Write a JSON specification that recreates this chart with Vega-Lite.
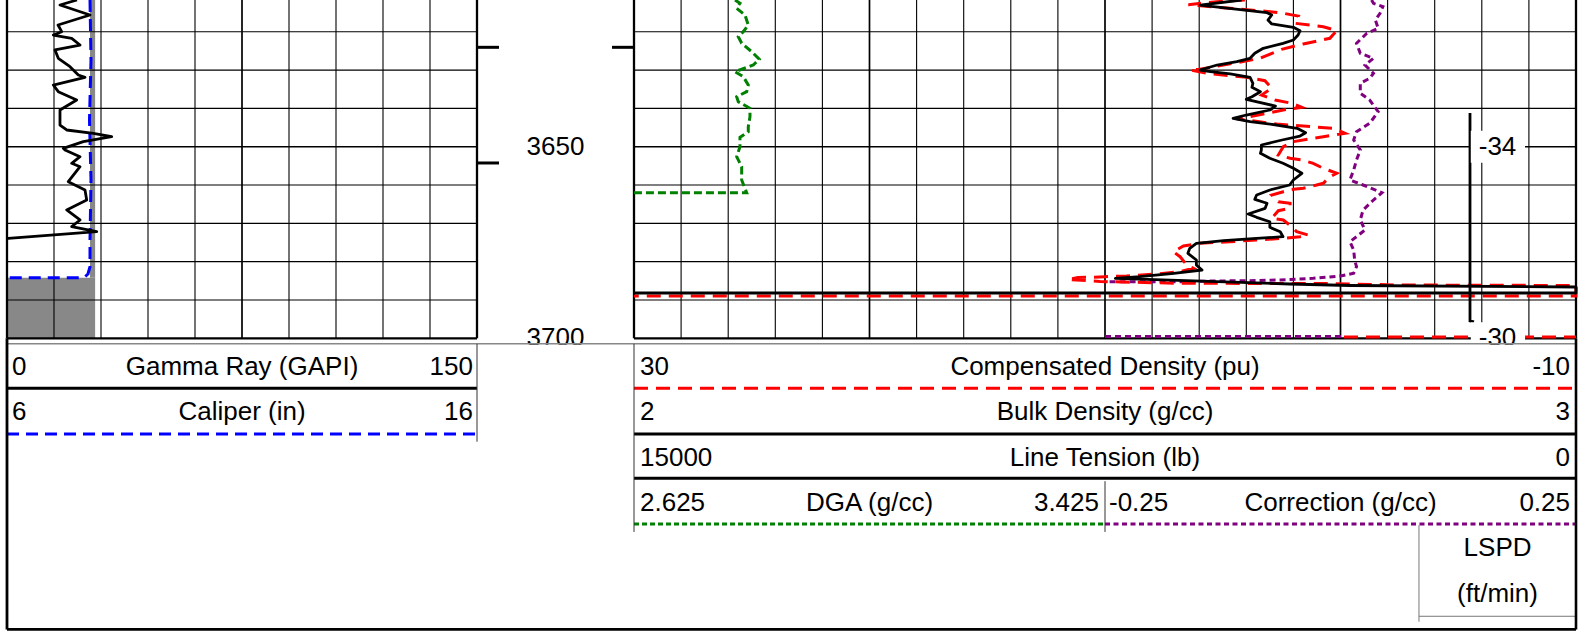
{
"$schema": "https://vega.github.io/schema/vega-lite/v6.json",
"width": 1592, "height": 631,
"autosize": {"type": "none"},
"padding": 0,
"background": "white",
"config": {"view": {"stroke": null}},
"data": {"values": [{"frame": 1}]},
"datasets": {
"hgrid": [{"depth":3620,"kind":"minor"},{"depth":3630,"kind":"minor"},{"depth":3640,"kind":"minor"},{"depth":3650,"kind":"major"},{"depth":3660,"kind":"minor"},{"depth":3670,"kind":"minor"},{"depth":3680,"kind":"minor"},{"depth":3690,"kind":"minor"},{"depth":3700,"kind":"border"}],
"vgridL": [{"v":0,"kind":"border"},{"v":15,"kind":"minor"},{"v":30,"kind":"minor"},{"v":45,"kind":"minor"},{"v":60,"kind":"minor"},{"v":75,"kind":"major"},{"v":90,"kind":"minor"},{"v":105,"kind":"minor"},{"v":120,"kind":"minor"},{"v":135,"kind":"minor"},{"v":150,"kind":"border"}],
"vgridR": [{"v":2.0,"kind":"border"},{"v":2.05,"kind":"minor"},{"v":2.1,"kind":"minor"},{"v":2.15,"kind":"minor"},{"v":2.2,"kind":"minor"},{"v":2.25,"kind":"major"},{"v":2.3,"kind":"minor"},{"v":2.35,"kind":"minor"},{"v":2.4,"kind":"minor"},{"v":2.45,"kind":"minor"},{"v":2.5,"kind":"major"},{"v":2.55,"kind":"minor"},{"v":2.6,"kind":"minor"},{"v":2.65,"kind":"minor"},{"v":2.7,"kind":"minor"},{"v":2.75,"kind":"major"},{"v":2.8,"kind":"minor"},{"v":2.85,"kind":"minor"},{"v":2.9,"kind":"minor"},{"v":2.95,"kind":"minor"},{"v":3.0,"kind":"border"}],
"bit": [{"top":3611.7,"bottom":3684.18,"cali_lo":7.766,"bit":7.875},{"top":3684.18,"bottom":3700,"cali_lo":6,"bit":7.875}],
"cali": [{"depth":3611.7,"cali":7.766},{"depth":3627.36,"cali":7.787},{"depth":3643.02,"cali":7.755},{"depth":3658.68,"cali":7.787},{"depth":3674.34,"cali":7.766},{"depth":3681.31,"cali":7.766},{"depth":3683.22,"cali":7.723},{"depth":3684.18,"cali":7.638},{"depth":3684.18,"cali":6.0}],
"gr": [{"depth":3611.7,"gr":22.34},{"depth":3613.01,"gr":16.91},{"depth":3615.62,"gr":26.49},{"depth":3618.23,"gr":16.28},{"depth":3619.97,"gr":17.46},{"depth":3620.84,"gr":14.78},{"depth":3621.7,"gr":20.65},{"depth":3623.45,"gr":23.3},{"depth":3624.75,"gr":15.32},{"depth":3626.92,"gr":16.37},{"depth":3629.11,"gr":20.11},{"depth":3631.28,"gr":22.76},{"depth":3631.88,"gr":24.89},{"depth":3633.89,"gr":14.78},{"depth":3635.63,"gr":16.37},{"depth":3637.8,"gr":22.24},{"depth":3640.41,"gr":16.91},{"depth":3644.33,"gr":16.91},{"depth":3645.63,"gr":19.05},{"depth":3646.49,"gr":27.54},{"depth":3647.38,"gr":33.41},{"depth":3648.68,"gr":24.35},{"depth":3650.41,"gr":17.97},{"depth":3650.85,"gr":18.51},{"depth":3652.6,"gr":23.3},{"depth":3654.32,"gr":20.65},{"depth":3655.21,"gr":23.3},{"depth":3659.13,"gr":19.56},{"depth":3661.29,"gr":24.89},{"depth":3663.9,"gr":25.44},{"depth":3666.51,"gr":19.05},{"depth":3669.12,"gr":23.3},{"depth":3670.87,"gr":20.65},{"depth":3672.18,"gr":28.63},{"depth":3673.9,"gr":0.41},{"depth":3673.95,"gr":0}],
"dga": [{"depth":3611.7,"dga":2.7966},{"depth":3612.56,"dga":2.805},{"depth":3613.87,"dga":2.7994},{"depth":3615.62,"dga":2.8135},{"depth":3618.23,"dga":2.8191},{"depth":3619.97,"dga":2.8106},{"depth":3621.28,"dga":2.8021},{"depth":3623.0,"dga":2.8079},{"depth":3625.19,"dga":2.8249},{"depth":3627.18,"dga":2.8378},{"depth":3628.67,"dga":2.8276},{"depth":3630.41,"dga":2.7966},{"depth":3631.72,"dga":2.8106},{"depth":3633.89,"dga":2.8191},{"depth":3635.63,"dga":2.8164},{"depth":3636.94,"dga":2.7994},{"depth":3638.24,"dga":2.8021},{"depth":3639.97,"dga":2.822},{"depth":3642.16,"dga":2.822},{"depth":3644.77,"dga":2.8191},{"depth":3646.08,"dga":2.8191},{"depth":3647.54,"dga":2.805},{"depth":3649.99,"dga":2.805},{"depth":3652.6,"dga":2.7994},{"depth":3655.21,"dga":2.8079},{"depth":3658.68,"dga":2.8079},{"depth":3662.0,"dga":2.8164},{"depth":3662.0,"dga":2.625}],
"rhob": [{"depth":3611.7,"rhob":2.645},{"depth":3613.01,"rhob":2.601},{"depth":3615.01,"rhob":2.672},{"depth":3615.62,"rhob":2.677},{"depth":3616.92,"rhob":2.673},{"depth":3617.96,"rhob":2.677},{"depth":3618.83,"rhob":2.7},{"depth":3619.71,"rhob":2.707},{"depth":3620.84,"rhob":2.705},{"depth":3622.14,"rhob":2.7},{"depth":3623.0,"rhob":2.689},{"depth":3624.31,"rhob":2.668},{"depth":3625.61,"rhob":2.659},{"depth":3626.92,"rhob":2.654},{"depth":3627.8,"rhob":2.64},{"depth":3628.67,"rhob":2.619},{"depth":3629.97,"rhob":2.601},{"depth":3630.41,"rhob":2.612},{"depth":3631.01,"rhob":2.633},{"depth":3631.88,"rhob":2.654},{"depth":3633.44,"rhob":2.657},{"depth":3634.49,"rhob":2.656},{"depth":3635.63,"rhob":2.665},{"depth":3636.94,"rhob":2.656},{"depth":3637.62,"rhob":2.65},{"depth":3639.37,"rhob":2.681},{"depth":3640.41,"rhob":2.675},{"depth":3641.72,"rhob":2.65},{"depth":3642.58,"rhob":2.636},{"depth":3643.47,"rhob":2.654},{"depth":3644.33,"rhob":2.682},{"depth":3645.19,"rhob":2.704},{"depth":3646.34,"rhob":2.713},{"depth":3647.2,"rhob":2.707},{"depth":3648.24,"rhob":2.688},{"depth":3649.55,"rhob":2.666},{"depth":3650.85,"rhob":2.666},{"depth":3651.71,"rhob":2.665},{"depth":3653.02,"rhob":2.675},{"depth":3654.32,"rhob":2.689},{"depth":3655.63,"rhob":2.7},{"depth":3656.93,"rhob":2.709},{"depth":3658.68,"rhob":2.7},{"depth":3659.99,"rhob":2.696},{"depth":3661.29,"rhob":2.675},{"depth":3662.6,"rhob":2.661},{"depth":3663.72,"rhob":2.659},{"depth":3664.76,"rhob":2.672},{"depth":3666.07,"rhob":2.67},{"depth":3667.56,"rhob":2.652},{"depth":3668.42,"rhob":2.661},{"depth":3669.57,"rhob":2.675},{"depth":3671.03,"rhob":2.675},{"depth":3672.18,"rhob":2.686},{"depth":3673.48,"rhob":2.689},{"depth":3674.0,"rhob":2.657},{"depth":3674.53,"rhob":2.626},{"depth":3675.21,"rhob":2.597},{"depth":3676.51,"rhob":2.59},{"depth":3677.81,"rhob":2.588},{"depth":3679.56,"rhob":2.597},{"depth":3680.87,"rhob":2.597},{"depth":3682.17,"rhob":2.603},{"depth":3683.04,"rhob":2.573},{"depth":3683.92,"rhob":2.537},{"depth":3684.34,"rhob":2.511},{"depth":3685.83,"rhob":2.696},{"depth":3686.22,"rhob":2.76},{"depth":3686.61,"rhob":3.0},{"depth":3688.18,"rhob":3.0},{"depth":3688.18,"rhob":2.0}],
"dphi": [{"depth":3611.7,"dphi":4.06,"part":"main"},{"depth":3612.14,"dphi":5.26,"part":"main"},{"depth":3612.93,"dphi":6.46,"part":"main"},{"depth":3613.87,"dphi":4.69,"part":"main"},{"depth":3614.75,"dphi":2.99,"part":"main"},{"depth":3615.01,"dphi":2.57,"part":"main"},{"depth":3615.88,"dphi":1.79,"part":"main"},{"depth":3617.78,"dphi":1.93,"part":"main"},{"depth":3618.67,"dphi":0.73,"part":"main"},{"depth":3619.71,"dphi":0.16,"part":"main"},{"depth":3621.7,"dphi":0.45,"part":"main"},{"depth":3623.18,"dphi":1.58,"part":"main"},{"depth":3624.57,"dphi":2.5,"part":"main"},{"depth":3626.92,"dphi":3.42,"part":"main"},{"depth":3628.07,"dphi":4.41,"part":"main"},{"depth":3629.79,"dphi":5.97,"part":"main"},{"depth":3629.97,"dphi":6.39,"part":"main"},{"depth":3630.83,"dphi":5.68,"part":"main"},{"depth":3631.88,"dphi":3.98,"part":"main"},{"depth":3632.76,"dphi":3.21,"part":"main"},{"depth":3634.75,"dphi":2.92,"part":"main"},{"depth":3636.5,"dphi":3.35,"part":"main"},{"depth":3637.8,"dphi":2.78,"part":"main"},{"depth":3638.66,"dphi":2.07,"part":"main"},{"depth":3639.71,"dphi":1.65,"part":"main"},{"depth":3640.41,"dphi":2.43,"part":"main"},{"depth":3641.46,"dphi":3.28,"part":"main"},{"depth":3642.32,"dphi":3.98,"part":"main"},{"depth":3642.68,"dphi":4.41,"part":"main"},{"depth":3644.07,"dphi":2.71,"part":"main"},{"depth":3644.59,"dphi":1.58,"part":"main"},{"depth":3645.19,"dphi":0.31,"part":"main"},{"depth":3646.49,"dphi":-0.19,"part":"main"},{"depth":3647.38,"dphi":0.73,"part":"main"},{"depth":3648.68,"dphi":2.0,"part":"main"},{"depth":3650.0,"dphi":2.43,"part":"main"},{"depth":3652.16,"dphi":2.64,"part":"main"},{"depth":3653.02,"dphi":2.14,"part":"main"},{"depth":3653.46,"dphi":1.65,"part":"main"},{"depth":3654.32,"dphi":1.16,"part":"main"},{"depth":3655.63,"dphi":0.73,"part":"main"},{"depth":3656.93,"dphi":0.16,"part":"main"},{"depth":3657.82,"dphi":0.45,"part":"main"},{"depth":3659.54,"dphi":0.73,"part":"main"},{"depth":3659.99,"dphi":1.01,"part":"main"},{"depth":3660.85,"dphi":1.58,"part":"main"},{"depth":3661.11,"dphi":2.0,"part":"main"},{"depth":3661.74,"dphi":2.43,"part":"main"},{"depth":3662.6,"dphi":2.92,"part":"main"},{"depth":3664.35,"dphi":2.64,"part":"main"},{"depth":3664.76,"dphi":2.14,"part":"main"},{"depth":3666.07,"dphi":2.14,"part":"main"},{"depth":3666.69,"dphi":2.64,"part":"main"},{"depth":3668.68,"dphi":2.92,"part":"main"},{"depth":3669.12,"dphi":2.43,"part":"main"},{"depth":3670.87,"dphi":2.07,"part":"main"},{"depth":3672.18,"dphi":1.86,"part":"main"},{"depth":3673.04,"dphi":1.37,"part":"main"},{"depth":3673.48,"dphi":1.72,"part":"main"},{"depth":3673.9,"dphi":2.43,"part":"main"},{"depth":3674.34,"dphi":3.56,"part":"main"},{"depth":3674.79,"dphi":4.69,"part":"main"},{"depth":3675.21,"dphi":5.97,"part":"main"},{"depth":3675.91,"dphi":6.67,"part":"main"},{"depth":3677.4,"dphi":7.1,"part":"main"},{"depth":3678.7,"dphi":6.81,"part":"main"},{"depth":3680.87,"dphi":6.53,"part":"main"},{"depth":3681.73,"dphi":6.25,"part":"main"},{"depth":3682.62,"dphi":6.81,"part":"main"},{"depth":3683.22,"dphi":7.8,"part":"main"},{"depth":3683.74,"dphi":9.08,"part":"main"},{"depth":3683.92,"dphi":10.0,"part":"main"},{"depth":3684.08,"dphi":10.64,"part":"main"},{"depth":3684.13,"dphi":11.15,"part":"main"},{"depth":3684.65,"dphi":11.57,"part":"main"},{"depth":3685.17,"dphi":10.21,"part":"main"},{"depth":3685.64,"dphi":6.81,"part":"main"},{"depth":3685.7,"dphi":0.74,"part":"main"},{"depth":3686.09,"dphi":-2.53,"part":"main"},{"depth":3686.22,"dphi":-10,"part":"main"},{"depth":3688.96,"dphi":-10,"part":"main"},{"depth":3688.96,"dphi":30,"part":"main"},{"depth":3699.66,"dphi":-0.15,"part":"base"},{"depth":3699.66,"dphi":-10,"part":"base"}],
"corr": [{"depth":3611.7,"corr":0.033,"part":"main"},{"depth":3612.56,"corr":0.035,"part":"main"},{"depth":3613.45,"corr":0.045,"part":"main"},{"depth":3615.17,"corr":0.042,"part":"main"},{"depth":3616.92,"corr":0.037,"part":"main"},{"depth":3619.09,"corr":0.04,"part":"main"},{"depth":3620.39,"corr":0.028,"part":"main"},{"depth":3623.0,"corr":0.017,"part":"main"},{"depth":3625.61,"corr":0.021,"part":"main"},{"depth":3626.92,"corr":0.035,"part":"main"},{"depth":3628.67,"corr":0.026,"part":"main"},{"depth":3630.83,"corr":0.035,"part":"main"},{"depth":3632.14,"corr":0.031,"part":"main"},{"depth":3633.44,"corr":0.021,"part":"main"},{"depth":3636.05,"corr":0.021,"part":"main"},{"depth":3637.8,"corr":0.031,"part":"main"},{"depth":3640.86,"corr":0.04,"part":"main"},{"depth":3643.88,"corr":0.031,"part":"main"},{"depth":3646.08,"corr":0.017,"part":"main"},{"depth":3648.24,"corr":0.014,"part":"main"},{"depth":3650.85,"corr":0.021,"part":"main"},{"depth":3653.46,"corr":0.017,"part":"main"},{"depth":3656.07,"corr":0.014,"part":"main"},{"depth":3658.68,"corr":0.01,"part":"main"},{"depth":3659.99,"corr":0.024,"part":"main"},{"depth":3661.99,"corr":0.044,"part":"main"},{"depth":3663.9,"corr":0.035,"part":"main"},{"depth":3666.51,"corr":0.024,"part":"main"},{"depth":3669.12,"corr":0.021,"part":"main"},{"depth":3671.73,"corr":0.026,"part":"main"},{"depth":3673.48,"corr":0.017,"part":"main"},{"depth":3674.79,"corr":0.01,"part":"main"},{"depth":3676.95,"corr":0.014,"part":"main"},{"depth":3679.56,"corr":0.015,"part":"main"},{"depth":3681.31,"corr":0.017,"part":"main"},{"depth":3683.03,"corr":0.014,"part":"main"},{"depth":3683.74,"corr":0.0,"part":"main"},{"depth":3684.34,"corr":-0.029,"part":"main"},{"depth":3684.78,"corr":-0.064,"part":"main"},{"depth":3684.97,"corr":-0.1,"part":"main"},{"depth":3685.04,"corr":-0.135,"part":"main"},{"depth":3685.23,"corr":-0.17,"part":"main"},{"depth":3685.23,"corr":-0.206,"part":"main"},{"depth":3685.23,"corr":-0.25,"part":"main"},{"depth":3699.53,"corr":-0.25,"part":"base"},{"depth":3699.53,"corr":0.004,"part":"base"}],
"tension": [{"depth":3641.19,"tension":1688},{"depth":3695.48,"tension":1688},{"depth":3695.74,"tension":1624}],
"lspd": [{"depth":3650,"lspd":"-34"},{"depth":3700,"lspd":"-30"}],
"depthLabels": [{"depth":3650},{"depth":3700}],
"depthMarks": [{"depth":3624.05,"side":"left"},{"depth":3624.05,"side":"right"},{"depth":3654.24,"side":"left"}],
"header": [
{"label":"0","row":1,"section":"L","place":"lo"},{"label":"Gamma Ray (GAPI)","row":1,"section":"L","place":"mid"},{"label":"150","row":1,"section":"L","place":"hi"},
{"label":"6","row":2,"section":"L","place":"lo"},{"label":"Caliper (in)","row":2,"section":"L","place":"mid"},{"label":"16","row":2,"section":"L","place":"hi"},
{"label":"30","row":1,"section":"R","place":"lo"},{"label":"Compensated Density (pu)","row":1,"section":"R","place":"mid"},{"label":"-10","row":1,"section":"R","place":"hi"},
{"label":"2","row":2,"section":"R","place":"lo"},{"label":"Bulk Density (g/cc)","row":2,"section":"R","place":"mid"},{"label":"3","row":2,"section":"R","place":"hi"},
{"label":"15000","row":3,"section":"R","place":"lo"},{"label":"Line Tension (lb)","row":3,"section":"R","place":"mid"},{"label":"0","row":3,"section":"R","place":"hi"},
{"label":"2.625","row":4,"section":"RA","place":"lo"},{"label":"DGA (g/cc)","row":4,"section":"RA","place":"mid"},{"label":"3.425","row":4,"section":"RA","place":"hi"},
{"label":"-0.25","row":4,"section":"RB","place":"lo"},{"label":"Correction (g/cc)","row":4,"section":"RB","place":"mid"},{"label":"0.25","row":4,"section":"RB","place":"hi"},
{"label":"LSPD","row":5,"section":"LSPD","place":"mid"},{"label":"(ft/min)","row":6,"section":"LSPD","place":"mid"}]
},
"layer": [
{"data":{"name":"bit"},"mark":{"type":"rect","color":"#888888"},
 "encoding":{"x":{"field":"cali_lo","type":"quantitative","scale":{"domain":[6,16],"range":[7,477],"zero":false,"nice":false},"axis":null},"x2":{"field":"bit"},
 "y":{"field":"top","type":"quantitative","scale":{"domain":[3611.7,3700],"range":[0,338.3],"zero":false,"nice":false},"axis":null},"y2":{"field":"bottom"}}},
{"data":{"name":"hgrid"},"mark":{"type":"rule","color":"black"},
 "encoding":{"y":{"field":"depth","type":"quantitative","scale":{"domain":[3611.7,3700],"range":[0,338.3],"zero":false,"nice":false},"axis":null},
 "x":{"datum":0,"type":"quantitative","scale":{"domain":[0,150],"range":[7,477],"zero":false,"nice":false},"axis":null},"x2":{"datum":150},
 "strokeWidth":{"field":"kind","type":"nominal","scale":{"domain":["minor","major","border"],"range":[1.1,2.3,2.8]},"legend":null}}},
{"data":{"name":"hgrid"},"mark":{"type":"rule","color":"black"},
 "encoding":{"y":{"field":"depth","type":"quantitative","scale":{"domain":[3611.7,3700],"range":[0,338.3],"zero":false,"nice":false},"axis":null},
 "x":{"datum":2,"type":"quantitative","scale":{"domain":[2,3],"range":[634,1576],"zero":false,"nice":false},"axis":null},"x2":{"datum":3},
 "strokeWidth":{"field":"kind","type":"nominal","scale":{"domain":["minor","major","border"],"range":[1.1,2.3,2.8]},"legend":null}}},
{"data":{"name":"vgridL"},"mark":{"type":"rule","color":"black"},
 "encoding":{"x":{"field":"v","type":"quantitative","scale":{"domain":[0,150],"range":[7,477],"zero":false,"nice":false},"axis":null},
 "y":{"datum":3611.7,"type":"quantitative","scale":{"domain":[3611.7,3700],"range":[0,338.3],"zero":false,"nice":false},"axis":null},"y2":{"datum":3700},
 "strokeWidth":{"field":"kind","type":"nominal","scale":{"domain":["minor","major","border"],"range":[1.1,2.3,2.8]},"legend":null}}},
{"data":{"name":"vgridR"},"mark":{"type":"rule","color":"black"},
 "encoding":{"x":{"field":"v","type":"quantitative","scale":{"domain":[2,3],"range":[634,1576],"zero":false,"nice":false},"axis":null},
 "y":{"datum":3611.7,"type":"quantitative","scale":{"domain":[3611.7,3700],"range":[0,338.3],"zero":false,"nice":false},"axis":null},"y2":{"datum":3700},
 "strokeWidth":{"field":"kind","type":"nominal","scale":{"domain":["minor","major","border"],"range":[1.1,2.3,2.8]},"legend":null}}},
{"data":{"name":"cali"},"mark":{"type":"line","color":"#0000ff","strokeWidth":3,"strokeDash":[12,7]},
 "encoding":{"x":{"field":"cali","type":"quantitative","scale":{"domain":[6,16],"range":[7,477],"zero":false,"nice":false},"axis":null},
 "y":{"field":"depth","type":"quantitative","scale":{"domain":[3611.7,3700],"range":[0,338.3],"zero":false,"nice":false},"axis":null},"order":{"value":null}}},
{"data":{"name":"gr"},"mark":{"type":"line","color":"black","strokeWidth":2.8,"strokeJoin":"round"},
 "encoding":{"x":{"field":"gr","type":"quantitative","scale":{"domain":[0,150],"range":[7,477],"zero":false,"nice":false},"axis":null},
 "y":{"field":"depth","type":"quantitative","scale":{"domain":[3611.7,3700],"range":[0,338.3],"zero":false,"nice":false},"axis":null},"order":{"value":null}}},
{"data":{"name":"dga"},"mark":{"type":"line","color":"#008000","strokeWidth":3,"strokeDash":[8,4]},
 "encoding":{"x":{"field":"dga","type":"quantitative","scale":{"domain":[2.625,3.425],"range":[634,1105],"zero":false,"nice":false},"axis":null},
 "y":{"field":"depth","type":"quantitative","scale":{"domain":[3611.7,3700],"range":[0,338.3],"zero":false,"nice":false},"axis":null},"order":{"value":null}}},
{"data":{"name":"corr"},"mark":{"type":"line","color":"#800080","strokeWidth":3,"strokeDash":[6,4]},
 "encoding":{"x":{"field":"corr","type":"quantitative","scale":{"domain":[-0.25,0.25],"range":[1105,1576],"zero":false,"nice":false},"axis":null},
 "y":{"field":"depth","type":"quantitative","scale":{"domain":[3611.7,3700],"range":[0,338.3],"zero":false,"nice":false},"axis":null},"detail":{"field":"part"},"order":{"value":null}}},
{"data":{"name":"dphi"},"mark":{"type":"line","color":"#ff0000","strokeWidth":3,"strokeDash":[14,8]},
 "encoding":{"x":{"field":"dphi","type":"quantitative","scale":{"domain":[-10,30],"range":[1576,634],"zero":false,"nice":false},"axis":null},
 "y":{"field":"depth","type":"quantitative","scale":{"domain":[3611.7,3700],"range":[0,338.3],"zero":false,"nice":false},"axis":null},"detail":{"field":"part"},"order":{"value":null}}},
{"data":{"name":"rhob"},"mark":{"type":"line","color":"black","strokeWidth":2.8,"strokeJoin":"round"},
 "encoding":{"x":{"field":"rhob","type":"quantitative","scale":{"domain":[2,3],"range":[634,1576],"zero":false,"nice":false},"axis":null},
 "y":{"field":"depth","type":"quantitative","scale":{"domain":[3611.7,3700],"range":[0,338.3],"zero":false,"nice":false},"axis":null},"order":{"value":null}}},
{"data":{"name":"tension"},"mark":{"type":"line","color":"black","strokeWidth":2.8},
 "encoding":{"x":{"field":"tension","type":"quantitative","scale":{"domain":[0,15000],"range":[1576,634],"zero":false,"nice":false},"axis":null},
 "y":{"field":"depth","type":"quantitative","scale":{"domain":[3611.7,3700],"range":[0,338.3],"zero":false,"nice":false},"axis":null},"order":{"value":null}}},
{"data":{"name":"lspd"},"mark":{"type":"rule","color":"white","strokeWidth":32},
 "encoding":{"y":{"field":"depth","type":"quantitative","scale":{"domain":[3611.7,3700],"range":[0,338.3],"zero":false,"nice":false},"axis":null},
 "x":{"datum":2.8883,"type":"quantitative","scale":{"domain":[2,3],"range":[634,1576],"zero":false,"nice":false},"axis":null},"x2":{"datum":2.9459}}},
{"data":{"name":"lspd"},"mark":{"type":"text","font":"Liberation Sans","fontSize":26,"align":"center","baseline":"middle","color":"black"},
 "encoding":{"y":{"field":"depth","type":"quantitative","scale":{"domain":[3611.7,3700],"range":[0,338.3],"zero":false,"nice":false},"axis":null},
 "x":{"datum":2.9167,"type":"quantitative","scale":{"domain":[2,3],"range":[634,1576],"zero":false,"nice":false},"axis":null},"text":{"field":"lspd","type":"nominal"}}},
{"data":{"name":"depthLabels"},"mark":{"type":"text","font":"Liberation Sans","fontSize":26,"align":"center","baseline":"middle","color":"black"},
 "encoding":{"y":{"field":"depth","type":"quantitative","scale":{"domain":[3611.7,3700],"range":[0,338.3],"zero":false,"nice":false},"axis":null},
 "x":{"datum":0.5,"type":"quantitative","scale":{"domain":[0,1],"range":[477,634],"zero":false,"nice":false},"axis":null},"text":{"field":"depth","type":"quantitative","format":"d"}}},
{"data":{"name":"depthMarks"},"transform":[{"filter":{"field":"side","equal":"left"}}],"mark":{"type":"rule","color":"black","strokeWidth":3},
 "encoding":{"y":{"field":"depth","type":"quantitative","scale":{"domain":[3611.7,3700],"range":[0,338.3],"zero":false,"nice":false},"axis":null},
 "x":{"datum":0.006,"type":"quantitative","scale":{"domain":[0,1],"range":[477,634],"zero":false,"nice":false},"axis":null},"x2":{"datum":0.14}}},
{"data":{"name":"depthMarks"},"transform":[{"filter":{"field":"side","equal":"right"}}],"mark":{"type":"rule","color":"black","strokeWidth":3},
 "encoding":{"y":{"field":"depth","type":"quantitative","scale":{"domain":[3611.7,3700],"range":[0,338.3],"zero":false,"nice":false},"axis":null},
 "x":{"datum":0.86,"type":"quantitative","scale":{"domain":[0,1],"range":[477,634],"zero":false,"nice":false},"axis":null},"x2":{"datum":0.994}}},
{"mark":{"type":"rect","color":"white"},
 "encoding":{"x":{"datum":0,"type":"quantitative","scale":{"domain":[0,1],"range":[7,1576],"zero":false,"nice":false},"axis":null},"x2":{"datum":1},
 "y":{"datum":0.51,"type":"quantitative","scale":{"domain":[0,6],"range":[321.6,593.6],"zero":false,"nice":false},"axis":null},"y2":{"datum":6.79}}},
{"mark":{"type":"rule","color":"#888888","strokeWidth":1.5},
 "encoding":{"x":{"datum":0,"type":"quantitative","scale":{"domain":[0,1],"range":[7,1576],"zero":false,"nice":false},"axis":null},"x2":{"datum":1},
 "y":{"datum":0.49,"type":"quantitative","scale":{"domain":[0,6],"range":[321.6,593.6],"zero":false,"nice":false},"axis":null}}},
{"mark":{"type":"rule","color":"black","strokeWidth":3},
 "encoding":{"x":{"datum":0,"type":"quantitative","scale":{"domain":[0,150],"range":[7,477],"zero":false,"nice":false},"axis":null},"x2":{"datum":150},
 "y":{"datum":1.471,"type":"quantitative","scale":{"domain":[0,6],"range":[321.6,593.6],"zero":false,"nice":false},"axis":null}}},
{"mark":{"type":"rule","color":"#0000ff","strokeWidth":3,"strokeDash":[12,7]},
 "encoding":{"x":{"datum":0,"type":"quantitative","scale":{"domain":[0,150],"range":[7,477],"zero":false,"nice":false},"axis":null},"x2":{"datum":150},
 "y":{"datum":2.479,"type":"quantitative","scale":{"domain":[0,6],"range":[321.6,593.6],"zero":false,"nice":false},"axis":null}}},
{"mark":{"type":"rule","color":"#333333","strokeWidth":1},
 "encoding":{"x":{"datum":150,"type":"quantitative","scale":{"domain":[0,150],"range":[7,477],"zero":false,"nice":false},"axis":null},
 "y":{"datum":0.49,"type":"quantitative","scale":{"domain":[0,6],"range":[321.6,593.6],"zero":false,"nice":false},"axis":null},"y2":{"datum":2.65}}},
{"mark":{"type":"rule","color":"#ff0000","strokeWidth":3,"strokeDash":[14,8]},
 "encoding":{"x":{"datum":2,"type":"quantitative","scale":{"domain":[2,3],"range":[634,1576],"zero":false,"nice":false},"axis":null},"x2":{"datum":3},
 "y":{"datum":1.471,"type":"quantitative","scale":{"domain":[0,6],"range":[321.6,593.6],"zero":false,"nice":false},"axis":null}}},
{"mark":{"type":"rule","color":"black","strokeWidth":3},
 "encoding":{"x":{"datum":2,"type":"quantitative","scale":{"domain":[2,3],"range":[634,1576],"zero":false,"nice":false},"axis":null},"x2":{"datum":3},
 "y":{"datum":2.479,"type":"quantitative","scale":{"domain":[0,6],"range":[321.6,593.6],"zero":false,"nice":false},"axis":null}}},
{"mark":{"type":"rule","color":"black","strokeWidth":3},
 "encoding":{"x":{"datum":2,"type":"quantitative","scale":{"domain":[2,3],"range":[634,1576],"zero":false,"nice":false},"axis":null},"x2":{"datum":3},
 "y":{"datum":3.457,"type":"quantitative","scale":{"domain":[0,6],"range":[321.6,593.6],"zero":false,"nice":false},"axis":null}}},
{"mark":{"type":"rule","color":"#008000","strokeWidth":3,"strokeDash":[5,3]},
 "encoding":{"x":{"datum":2,"type":"quantitative","scale":{"domain":[2,3],"range":[634,1576],"zero":false,"nice":false},"axis":null},"x2":{"datum":2.5},
 "y":{"datum":4.466,"type":"quantitative","scale":{"domain":[0,6],"range":[321.6,593.6],"zero":false,"nice":false},"axis":null}}},
{"mark":{"type":"rule","color":"#800080","strokeWidth":3,"strokeDash":[5,3.5]},
 "encoding":{"x":{"datum":2.5,"type":"quantitative","scale":{"domain":[2,3],"range":[634,1576],"zero":false,"nice":false},"axis":null},"x2":{"datum":3},
 "y":{"datum":4.466,"type":"quantitative","scale":{"domain":[0,6],"range":[321.6,593.6],"zero":false,"nice":false},"axis":null}}},
{"mark":{"type":"rule","color":"#333333","strokeWidth":1},
 "encoding":{"x":{"datum":2,"type":"quantitative","scale":{"domain":[2,3],"range":[634,1576],"zero":false,"nice":false},"axis":null},
 "y":{"datum":0.49,"type":"quantitative","scale":{"domain":[0,6],"range":[321.6,593.6],"zero":false,"nice":false},"axis":null},"y2":{"datum":4.64}}},
{"mark":{"type":"rule","color":"#333333","strokeWidth":1},
 "encoding":{"x":{"datum":2.5,"type":"quantitative","scale":{"domain":[2,3],"range":[634,1576],"zero":false,"nice":false},"axis":null},
 "y":{"datum":3.52,"type":"quantitative","scale":{"domain":[0,6],"range":[321.6,593.6],"zero":false,"nice":false},"axis":null},"y2":{"datum":4.64}}},
{"mark":{"type":"rule","color":"#777777","strokeWidth":1},
 "encoding":{"x":{"datum":2.8333,"type":"quantitative","scale":{"domain":[2,3],"range":[634,1576],"zero":false,"nice":false},"axis":null},
 "y":{"datum":4.49,"type":"quantitative","scale":{"domain":[0,6],"range":[321.6,593.6],"zero":false,"nice":false},"axis":null},"y2":{"datum":6.62}}},
{"mark":{"type":"rule","color":"#777777","strokeWidth":1},
 "encoding":{"x":{"datum":2.8333,"type":"quantitative","scale":{"domain":[2,3],"range":[634,1576],"zero":false,"nice":false},"axis":null},"x2":{"datum":3},
 "y":{"datum":6.5,"type":"quantitative","scale":{"domain":[0,6],"range":[321.6,593.6],"zero":false,"nice":false},"axis":null}}},
{"mark":{"type":"rule","color":"black","strokeWidth":2.8},
 "encoding":{"x":{"datum":0,"type":"quantitative","scale":{"domain":[0,1],"range":[7,1576],"zero":false,"nice":false},"axis":null},
 "y":{"datum":0.37,"type":"quantitative","scale":{"domain":[0,6],"range":[321.6,593.6],"zero":false,"nice":false},"axis":null},"y2":{"datum":6.79}}},
{"mark":{"type":"rule","color":"black","strokeWidth":2.6},
 "encoding":{"x":{"datum":1,"type":"quantitative","scale":{"domain":[0,1],"range":[7,1576],"zero":false,"nice":false},"axis":null},
 "y":{"datum":0.37,"type":"quantitative","scale":{"domain":[0,6],"range":[321.6,593.6],"zero":false,"nice":false},"axis":null},"y2":{"datum":6.79}}},
{"mark":{"type":"rule","color":"black","strokeWidth":2.6},
 "encoding":{"x":{"datum":0,"type":"quantitative","scale":{"domain":[0,1],"range":[7,1576],"zero":false,"nice":false},"axis":null},"x2":{"datum":1},
 "y":{"datum":6.79,"type":"quantitative","scale":{"domain":[0,6],"range":[321.6,593.6],"zero":false,"nice":false},"axis":null}}},
{"data":{"name":"header"},"transform":[{"filter":{"and":[{"field":"section","equal":"L"},{"field":"place","equal":"lo"}]}}],
 "mark":{"type":"text","font":"Liberation Sans","fontSize":26,"align":"left","baseline":"middle","dx":5,"color":"black"},
 "encoding":{"x":{"datum":0,"type":"quantitative","scale":{"domain":[0,150],"range":[7,477],"zero":false,"nice":false},"axis":null},
 "y":{"field":"row","type":"quantitative","scale":{"domain":[0,6],"range":[321.6,593.6],"zero":false,"nice":false},"axis":null},"text":{"field":"label"}}},
{"data":{"name":"header"},"transform":[{"filter":{"and":[{"field":"section","equal":"L"},{"field":"place","equal":"mid"}]}}],
 "mark":{"type":"text","font":"Liberation Sans","fontSize":26,"align":"center","baseline":"middle","color":"black"},
 "encoding":{"x":{"datum":75,"type":"quantitative","scale":{"domain":[0,150],"range":[7,477],"zero":false,"nice":false},"axis":null},
 "y":{"field":"row","type":"quantitative","scale":{"domain":[0,6],"range":[321.6,593.6],"zero":false,"nice":false},"axis":null},"text":{"field":"label"}}},
{"data":{"name":"header"},"transform":[{"filter":{"and":[{"field":"section","equal":"L"},{"field":"place","equal":"hi"}]}}],
 "mark":{"type":"text","font":"Liberation Sans","fontSize":26,"align":"right","baseline":"middle","dx":-4,"color":"black"},
 "encoding":{"x":{"datum":150,"type":"quantitative","scale":{"domain":[0,150],"range":[7,477],"zero":false,"nice":false},"axis":null},
 "y":{"field":"row","type":"quantitative","scale":{"domain":[0,6],"range":[321.6,593.6],"zero":false,"nice":false},"axis":null},"text":{"field":"label"}}},
{"data":{"name":"header"},"transform":[{"filter":{"and":[{"field":"section","oneOf":["R","RA"]},{"field":"place","equal":"lo"}]}}],
 "mark":{"type":"text","font":"Liberation Sans","fontSize":26,"align":"left","baseline":"middle","dx":6,"color":"black"},
 "encoding":{"x":{"datum":2,"type":"quantitative","scale":{"domain":[2,3],"range":[634,1576],"zero":false,"nice":false},"axis":null},
 "y":{"field":"row","type":"quantitative","scale":{"domain":[0,6],"range":[321.6,593.6],"zero":false,"nice":false},"axis":null},"text":{"field":"label"}}},
{"data":{"name":"header"},"transform":[{"filter":{"and":[{"field":"section","equal":"R"},{"field":"place","equal":"mid"}]}}],
 "mark":{"type":"text","font":"Liberation Sans","fontSize":26,"align":"center","baseline":"middle","color":"black"},
 "encoding":{"x":{"datum":2.5,"type":"quantitative","scale":{"domain":[2,3],"range":[634,1576],"zero":false,"nice":false},"axis":null},
 "y":{"field":"row","type":"quantitative","scale":{"domain":[0,6],"range":[321.6,593.6],"zero":false,"nice":false},"axis":null},"text":{"field":"label"}}},
{"data":{"name":"header"},"transform":[{"filter":{"and":[{"field":"section","oneOf":["R","RB"]},{"field":"place","equal":"hi"}]}}],
 "mark":{"type":"text","font":"Liberation Sans","fontSize":26,"align":"right","baseline":"middle","dx":-6,"color":"black"},
 "encoding":{"x":{"datum":3,"type":"quantitative","scale":{"domain":[2,3],"range":[634,1576],"zero":false,"nice":false},"axis":null},
 "y":{"field":"row","type":"quantitative","scale":{"domain":[0,6],"range":[321.6,593.6],"zero":false,"nice":false},"axis":null},"text":{"field":"label"}}},
{"data":{"name":"header"},"transform":[{"filter":{"and":[{"field":"section","equal":"RA"},{"field":"place","equal":"mid"}]}}],
 "mark":{"type":"text","font":"Liberation Sans","fontSize":26,"align":"center","baseline":"middle","color":"black"},
 "encoding":{"x":{"datum":2.25,"type":"quantitative","scale":{"domain":[2,3],"range":[634,1576],"zero":false,"nice":false},"axis":null},
 "y":{"field":"row","type":"quantitative","scale":{"domain":[0,6],"range":[321.6,593.6],"zero":false,"nice":false},"axis":null},"text":{"field":"label"}}},
{"data":{"name":"header"},"transform":[{"filter":{"and":[{"field":"section","equal":"RA"},{"field":"place","equal":"hi"}]}}],
 "mark":{"type":"text","font":"Liberation Sans","fontSize":26,"align":"right","baseline":"middle","dx":-6,"color":"black"},
 "encoding":{"x":{"datum":2.5,"type":"quantitative","scale":{"domain":[2,3],"range":[634,1576],"zero":false,"nice":false},"axis":null},
 "y":{"field":"row","type":"quantitative","scale":{"domain":[0,6],"range":[321.6,593.6],"zero":false,"nice":false},"axis":null},"text":{"field":"label"}}},
{"data":{"name":"header"},"transform":[{"filter":{"and":[{"field":"section","equal":"RB"},{"field":"place","equal":"lo"}]}}],
 "mark":{"type":"text","font":"Liberation Sans","fontSize":26,"align":"left","baseline":"middle","dx":4,"color":"black"},
 "encoding":{"x":{"datum":2.5,"type":"quantitative","scale":{"domain":[2,3],"range":[634,1576],"zero":false,"nice":false},"axis":null},
 "y":{"field":"row","type":"quantitative","scale":{"domain":[0,6],"range":[321.6,593.6],"zero":false,"nice":false},"axis":null},"text":{"field":"label"}}},
{"data":{"name":"header"},"transform":[{"filter":{"and":[{"field":"section","equal":"RB"},{"field":"place","equal":"mid"}]}}],
 "mark":{"type":"text","font":"Liberation Sans","fontSize":26,"align":"center","baseline":"middle","color":"black"},
 "encoding":{"x":{"datum":2.75,"type":"quantitative","scale":{"domain":[2,3],"range":[634,1576],"zero":false,"nice":false},"axis":null},
 "y":{"field":"row","type":"quantitative","scale":{"domain":[0,6],"range":[321.6,593.6],"zero":false,"nice":false},"axis":null},"text":{"field":"label"}}},
{"data":{"name":"header"},"transform":[{"filter":{"field":"section","equal":"LSPD"}}],
 "mark":{"type":"text","font":"Liberation Sans","fontSize":26,"align":"center","baseline":"middle","color":"black"},
 "encoding":{"x":{"datum":2.9167,"type":"quantitative","scale":{"domain":[2,3],"range":[634,1576],"zero":false,"nice":false},"axis":null},
 "y":{"field":"row","type":"quantitative","scale":{"domain":[0,6],"range":[321.6,593.6],"zero":false,"nice":false},"axis":null},"text":{"field":"label"}}}
],
"resolve": {"scale": {"x": "independent", "y": "independent"}}
}
